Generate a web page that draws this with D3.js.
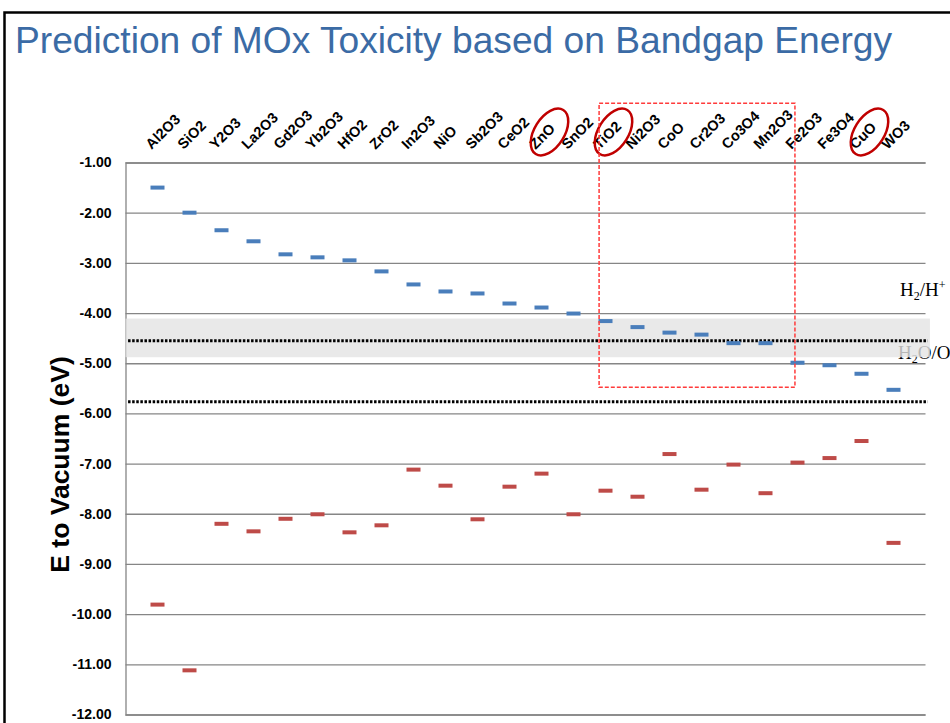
<!DOCTYPE html>
<html>
<head>
<meta charset="utf-8">
<script src="https://cdn.jsdelivr.net/npm/d3@7"></script>
<style>
  html, body { margin: 0; padding: 0; background: #fff; overflow: hidden; }
  svg { display: block; font-family: "Liberation Sans", Arial, sans-serif; }
</style>
</head>
<body>
<div id="app"></div>
<script>
// oxides along the top axis
const oxides = ['Al2O3', 'SiO2', 'Y2O3', 'La2O3', 'Gd2O3', 'Yb2O3', 'HfO2', 'ZrO2', 'In2O3', 'NiO',
  'Sb2O3', 'CeO2', 'ZnO', 'SnO2', 'TiO2', 'Ni2O3', 'CoO', 'Cr2O3', 'Co3O4', 'Mn2O3',
  'Fe2O3', 'Fe3O4', 'CuO', 'WO3'];

// conduction band edge (blue) and valence band edge (red), eV to vacuum
const conduction = [-1.50, -2.00, -2.35, -2.57, -2.83, -2.89, -2.95, -3.17, -3.43, -3.57,
  -3.61, -3.81, -3.89, -4.01, -4.16, -4.28, -4.39, -4.43, -4.60, -4.60,
  -4.99, -5.04, -5.21, -5.53];
const valence = [-9.81, -11.12, -8.20, -8.35, -8.10, -8.01, -8.37, -8.23, -7.12, -7.44,
  -8.11, -7.46, -7.20, -8.01, -7.54, -7.66, -6.81, -7.52, -7.02, -7.59,
  -6.98, -6.89, -6.55, -8.58];

const yTicks = [-1, -2, -3, -4, -5, -6, -7, -8, -9, -10, -11, -12];

// redox levels (dotted) and the cellular redox band (grey)
const redoxLevels = [-4.55, -5.77];
const redoxBand = [-4.11, -4.88];
const circled = ['ZnO', 'TiO2', 'CuO'];
// dashed box: from TiO2 to Mn2O3, down to -5.48
const boxX = [14.8, 20.92];
const boxY = [0.18, -5.48];

const W = 950, H = 723;

const svg = d3.select('#app').append('svg')
  .attr('width', W)
  .attr('height', H);

// slide frame
svg.append('path')
  .attr('d', 'M4.5,723 V12.5 H950')
  .attr('fill', 'none')
  .attr('stroke', '#000')
  .attr('stroke-width', 2.5);

svg.append('text')
  .attr('x', 15)
  .attr('y', 53)
  .attr('fill', '#3b6ba5')
  .attr('textLength', 877)
  .attr('lengthAdjust', 'spacingAndGlyphs')
  .style('font-size', '36px')
  .text('Prediction of MOx Toxicity based on Bandgap Energy');

const x = d3.scaleLinear().domain([0, 25]).range([125.5, 925.5]);
const y = d3.scaleLinear().domain([-1, -12]).range([162.5, 714.5]);

// gridlines
svg.append('g')
  .attr('transform', `translate(${x(0)},0)`)
  .call(d3.axisLeft(y).tickValues(yTicks).tickSize(-(x(25) - x(0))).tickFormat(''))
  .call(g => g.selectAll('line').attr('stroke', '#868686').attr('stroke-width', 1.3))
  .call(g => g.select('.domain').attr('stroke', '#868686').attr('stroke-width', 1.3));

// tick labels
svg.append('g')
  .attr('transform', `translate(${x(0)},0)`)
  .call(d3.axisLeft(y).tickValues(yTicks).tickSize(0).tickPadding(14).tickFormat(d => d.toFixed(2)))
  .call(g => g.select('.domain').remove())
  .call(g => g.selectAll('text')
    .attr('fill', '#000')
    .style('font-size', '14px')
    .style('font-weight', 'bold')
    .style('font-family', '"Liberation Sans", Arial, sans-serif'));

svg.append('text')
  .attr('transform', `translate(69,${(y(-1) + y(-12)) / 2 + 26}) rotate(-90)`)
  .attr('text-anchor', 'middle')
  .style('font-size', '26.5px')
  .style('font-weight', 'bold')
  .text('E to Vacuum (eV)');

// redox labels (band drawn over them)
const h2 = svg.append('text')
  .attr('x', 900).attr('y', 296)
  .style('font-family', '"Liberation Serif", "Times New Roman", serif')
  .style('font-size', '19px');
h2.append('tspan').text('H');
h2.append('tspan').attr('dy', 4).style('font-size', '12px').text('2');
h2.append('tspan').attr('dy', -4).text('/H');
h2.append('tspan').attr('dy', -7).style('font-size', '12px').text('+');

const o2 = svg.append('text')
  .attr('x', 898).attr('y', 359)
  .style('font-family', '"Liberation Serif", "Times New Roman", serif')
  .style('font-size', '19px');
o2.append('tspan').text('H');
o2.append('tspan').attr('dy', 4).style('font-size', '12px').text('2');
o2.append('tspan').attr('dy', -4).text('O/O');
o2.append('tspan').attr('dy', 4).style('font-size', '12px').text('2');

svg.append('rect')
  .attr('x', x(0))
  .attr('y', y(redoxBand[0]))
  .attr('width', x(25.14) - x(0))
  .attr('height', y(redoxBand[1]) - y(redoxBand[0]))
  .attr('fill', '#e4e4e4')
  .attr('opacity', 0.8);

svg.selectAll('.redox')
  .data(redoxLevels)
  .enter()
    .append('line')
    .attr('class', 'redox')
    .attr('x1', x(0.08))
    .attr('x2', x(25.07))
    .attr('y1', d => y(d))
    .attr('y2', d => y(d))
    .attr('stroke', '#000')
    .attr('stroke-width', 3)
    .attr('stroke-dasharray', '2.5,1.6');

// band edges
const mark = (cls, data, color) => {
  svg.selectAll('.' + cls)
    .data(data)
    .enter()
      .append('rect')
      .attr('class', cls)
      .attr('x', (d, i) => x(i + 1) - 7)
      .attr('y', d => y(d) - 2)
      .attr('width', 14)
      .attr('height', 4)
      .attr('fill', color);
};
mark('cb', conduction, '#4a7ebb');
mark('vb', valence, '#be4b48');

// category labels
svg.selectAll('.cat')
  .data(oxides)
  .enter()
    .append('text')
    .attr('class', 'cat')
    .attr('transform', (d, i) => `translate(${x(i + 1) - 6},150) rotate(-45)`)
    .style('font-size', '14.5px')
    .style('font-weight', 'bold')
    .text(d => d);

// highlight circles
svg.selectAll('.ring')
  .data(circled)
  .enter()
    .append('ellipse')
    .attr('class', 'ring')
    .attr('transform', d => `translate(${x(oxides.indexOf(d) + 1) + 8},132) rotate(-58)`)
    .attr('rx', 26)
    .attr('ry', 15)
    .attr('fill', 'none')
    .attr('stroke', '#c00000')
    .attr('stroke-width', 2.5);

// dashed selection box
svg.append('rect')
  .attr('x', x(boxX[0]))
  .attr('y', y(boxY[0]))
  .attr('width', x(boxX[1]) - x(boxX[0]))
  .attr('height', y(boxY[1]) - y(boxY[0]))
  .attr('fill', 'none')
  .attr('stroke', '#ff3b3b')
  .attr('stroke-width', 1.5)
  .attr('stroke-dasharray', '4,2');
</script>
</body>
</html>
